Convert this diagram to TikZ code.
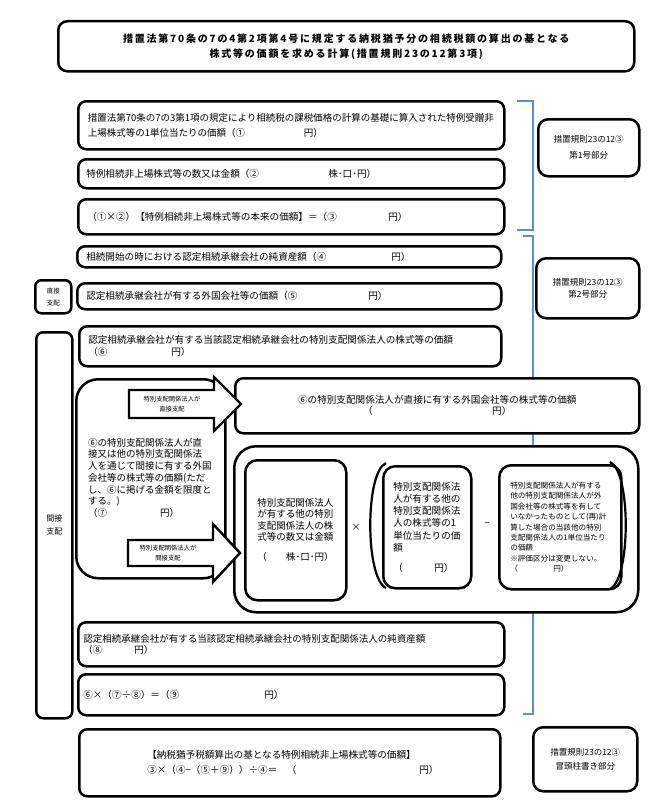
\documentclass[tikz,border=0pt]{standalone}
\usepackage{fontspec}
\newfontfamily\jp{Noto Sans CJK JP}
\definecolor{brblue}{RGB}{91,141,210}
\begin{document}
\begin{tikzpicture}[x=1pt,y=-1pt]
\tikzset{
  bx/.style={draw, line width=2.5pt, rounded corners=8pt, fill=white, anchor=north west, inner ysep=0pt, align=left, font=\jp\fontsize{9.6}{12}\selectfont},
  cbx/.style={bx, align=center},
  rbx/.style={bx, align=center, rounded corners=10pt, font=\jp\fontsize{8.5}{14}\selectfont},
  cont/.style={draw, line width=2.5pt, rounded corners=22pt, fill=white, anchor=north west, inner sep=0pt},
  blockarrow/.style={draw, line width=2.4pt, fill=white, line join=miter},
  arrowtxt/.style={font=\jp\fontsize{6.3}{10}\selectfont, align=center, inner sep=0pt},
  bracket/.style={draw=brblue, line width=1.6pt},
  paren/.style={draw, line width=2.2pt},
  op/.style={font=\jp\fontsize{9}{10}\selectfont, inner sep=0pt},
  plain/.style={font=\jp\fontsize{9.5}{11.7}\selectfont, inner sep=0pt, anchor=north west, align=left},
}
\fill[white] (0,0) rectangle (669,808);
\useasboundingbox (0,0) rectangle (669,808);

% blue brackets
\draw[bracket] (517,101) -- (533,101) -- (533,230) -- (517,230);
\draw[bracket] (523,236) -- (533,236) -- (533,714) -- (523,714);

% title
\node[cbx, rounded corners=9pt, minimum width=576pt, minimum height=50pt, text width=560pt, inner xsep=8pt,
  font=\jp\bfseries\fontsize{10}{15}\selectfont\addfontfeature{LetterSpace=18}] (title) at (57,20)
  {措置法第70条の7の4第2項第4号に規定する納税猶予分の相続税額の算出の基となる\\株式等の価額を求める計算(措置規則23の12第3項)};

% section 1
\node[bx, minimum width=426pt, minimum height=48pt, text width=407pt, inner xsep=9.5pt,
  font=\jp\fontsize{9.5}{15.5}\selectfont] (b1) at (77,100)
  {措置法第70条の7の3第1項の規定により相続税の課税価格の計算の基礎に算入された特例受贈非\\\makebox[216pt][l]{上場株式等の1単位当たりの価額（①}円）};
\node[bx, minimum width=426pt, minimum height=29pt, text width=410pt, inner xsep=8pt] (b2) at (77,158)
  {\makebox[242pt][l]{特例相続非上場株式等の数又は金額（②}株･口･円）};
\node[bx, minimum width=426pt, minimum height=35pt, text width=408pt, inner xsep=9pt] (b3) at (77,198)
  {\makebox[301pt][l]{（①×②）【特例相続非上場株式等の本来の価額】＝（③}円）};

\node[rbx, minimum width=101pt, minimum height=57pt, text width=90pt, inner xsep=5pt, font=\jp\fontsize{8.5}{16}\selectfont] (r1) at (537,118)
  {措置規則23の12③\\第1号部分};

% section 2
\node[bx, minimum width=424pt, minimum height=21pt, text width=406pt, inner xsep=9pt] (b4) at (76,245)
  {\makebox[305pt][l]{相続開始の時における認定相続承継会社の純資産額（④}円）};
\node[bx, rounded corners=6pt, minimum width=36pt, minimum height=33pt, text width=30pt, inner xsep=3pt, align=center,
  font=\jp\fontsize{6.5}{12}\selectfont] (direct) at (34,279) {直接\\支配};
\node[bx, minimum width=424pt, minimum height=26pt, text width=406pt, inner xsep=9pt] (b5) at (76,282)
  {\makebox[282pt][l]{認定相続承継会社が有する外国会社等の価額（⑤}円）};
\node[rbx, minimum width=103pt, minimum height=60pt, text width=93pt, inner xsep=5pt, font=\jp\fontsize{8.5}{12.5}\selectfont] (r2) at (535,257)
  {措置規則23の12③\\第2号部分};
\node[bx, rounded corners=7pt, minimum width=36pt, minimum height=386pt, text width=30pt, inner xsep=3pt, align=center,
  font=\jp\fontsize{8}{13}\selectfont] (indirect) at (35,331) {間接\\支配};
\node[bx, minimum width=422pt, minimum height=40pt, text width=404pt, inner xsep=9pt] (b6) at (78,325)
  {認定相続承継会社が有する当該認定相続承継会社の特別支配関係法人の株式等の価額\\\makebox[83pt][l]{（⑥}円）};

\node[cbx, minimum width=404pt, minimum height=55pt, text width=380pt, inner xsep=12pt,
  font=\jp\fontsize{9.6}{11}\selectfont] (b6a) at (234,377)
  {⑥の特別支配関係法人が直接に有する外国会社等の株式等の価額\\\makebox[129pt][l]{（}円）};

% left container
\node[cont, minimum width=149pt, minimum height=199pt] (lc) at (75,378) {};
\node[plain] (lctext) at (88,438)
  {⑥の特別支配関係法人が直\\接又は他の特別支配関係法\\人を通じて間接に有する外国\\会社等の株式等の価額(ただ\\し、⑥に掲げる金額を限度と\\する。)\\\makebox[72pt][l]{（⑦}円）};

% right container
\node[cont, minimum width=404pt, minimum height=166pt] (rc) at (233,445) {};
\node[bx, rounded corners=12pt, minimum width=101pt, minimum height=140pt, text width=77pt, inner xsep=12pt,
  font=\jp\fontsize{9.5}{11.3}\selectfont] (bA) at (244,459)
  {特別支配関係法人\\が有する他の特別\\支配関係法人の株\\式等の数又は金額\\[9pt]\makebox[29pt][l]{（}株･口･円）};
\node[op] (times) at (356,527) {×};
\node[bx, rounded corners=12pt, minimum width=88pt, minimum height=122pt, text width=68pt, inner xsep=10pt,
  font=\jp\fontsize{9.6}{12.2}\selectfont] (bB) at (382,465)
  {特別支配関係法\\人が有する他の\\特別支配関係法\\人の株式等の1\\単位当たりの価\\額\\[8pt]\makebox[41pt][l]{（}円）};
\node[op] (minus) at (487,525) {−};
\node[bx, rounded corners=12pt, minimum width=122pt, minimum height=124pt, text width=100pt, inner xsep=11pt,
  font=\jp\fontsize{7.6}{10.4}\selectfont] (bC) at (498,464)
  {特別支配関係法人が有する\\他の特別支配関係法人が外\\国会社等の株式等を有して\\いなかったものとして(再)計\\算した場合の当該他の特別\\支配関係法人の1単位当たり\\の価額\\※評価区分は変更しない。\\\makebox[43pt][l]{（}円）};
\draw[paren] (386,463) .. controls (365,472) and (365,578) .. (386,588);
\draw[paren] (610,462) .. controls (631,471) and (631,579) .. (610,589);

% block arrows
\draw[blockarrow] (129,390) -- (214,390) -- (214,377) -- (241,404) -- (214,431) -- (214,418) -- (129,418) -- cycle;
\node[arrowtxt] (a1t) at (172,404) {特別支配関係法人が\\直接支配};
\draw[blockarrow] (128,540) -- (213,540) -- (213,524) -- (240,553) -- (213,582) -- (213,566) -- (128,566) -- cycle;
\node[arrowtxt] (a2t) at (168,553) {特別支配関係法人が\\間接支配};

\node[bx, minimum width=426pt, minimum height=44pt, text width=416pt, inner xsep=5pt,
  font=\jp\fontsize{9.5}{10.5}\selectfont] (b7) at (77,621)
  {認定相続承継会社が有する当該認定相続承継会社の特別支配関係法人の純資産額\\\makebox[51pt][l]{（⑧}円）};
\node[bx, minimum width=426pt, minimum height=41pt, text width=416pt, inner xsep=5pt] (b8) at (77,673)
  {\makebox[181pt][l]{⑥×（⑦÷⑧）＝（⑨}円）};

% final
\node[bx, minimum width=421pt, minimum height=67pt, text width=285pt, inner xsep=68pt,
  font=\jp\fontsize{9.6}{15}\selectfont] (b9) at (78,728)
  {【納税猶予税額算出の基となる特例相続非上場株式等の価額】\\\makebox[272pt][l]{③×（④−（⑤＋⑨））÷④＝　（}円）};
\node[rbx, minimum width=104pt, minimum height=64pt, text width=94pt, inner xsep=5pt] (r3) at (532,726)
  {措置規則23の12③\\冒頭柱書き部分};
\end{tikzpicture}
\end{document}
